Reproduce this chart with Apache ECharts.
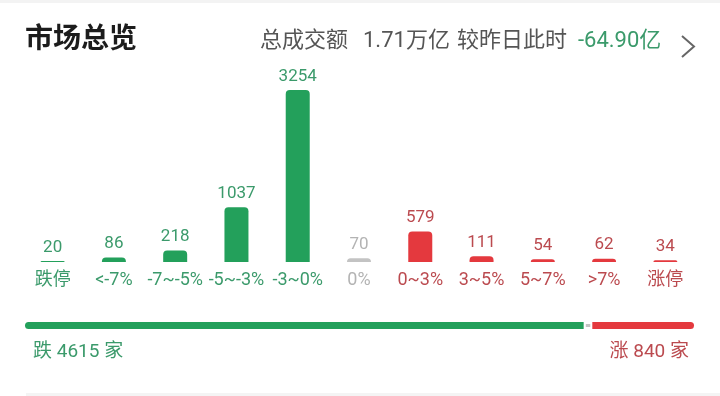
<!DOCTYPE html>
<html>
<head>
<meta charset="utf-8">
<script src="https://cdn.jsdelivr.net/npm/echarts@6/dist/echarts.min.js"></script>
<style>
  html, body { margin: 0; padding: 0; background: #fff; }
  #chart { width: 720px; height: 396px; }
</style>
</head>
<body>
<div id="chart"></div>
<script>
// distribution buckets
const categories = ["跌停", "<-7%", "-7~-5%", "-5~-3%", "-3~0%", "0%", "0~3%", "3~5%", "5~7%", ">7%", "涨停"];
const counts = [20, 86, 218, 1037, 3254, 70, 579, 111, 54, 62, 34];
const flatIndex = 5;

const turnover = "1.71万亿";
const turnoverChange = "-64.90亿";

const FONT = "Roboto, 'Noto Sans CJK SC', sans-serif";
const GREEN = "#23a05b";
const GREEN_TEXT = "#3b9a6b";
const RED = "#e4393e";
const RED_TEXT = "#bb4a4f";
const GRAY = "#c3c3c3";
const GRAY_TEXT = "#b3b3b3";

const downTotal = counts.slice(0, flatIndex).reduce((a, b) => a + b, 0);
const flatTotal = counts[flatIndex];
const upTotal = counts.slice(flatIndex + 1).reduce((a, b) => a + b, 0);

function sideColors(i) {
  if (i < flatIndex) return [GREEN, GREEN_TEXT];
  if (i === flatIndex) return [GRAY, GRAY_TEXT];
  return [RED, RED_TEXT];
}

const barData = counts.map((v, i) => {
  const [c, t] = sideColors(i);
  return { value: v, itemStyle: { color: c }, label: { color: t } };
});

const axisLabels = categories.map((name, i) => ({
  value: name,
  textStyle: { color: sideColors(i)[1] },
}));

const chart = echarts.init(document.getElementById("chart"), null, { renderer: "canvas" });

chart.setOption({
  backgroundColor: "#fff",
  animation: false,
  grid: [
    { left: 22, right: 24, top: 90, bottom: 134 },
    { left: 25, right: 26, top: 322, height: 7 },
  ],
  xAxis: [
    {
      type: "category",
      data: axisLabels,
      axisLine: { show: false },
      axisTick: { show: false },
      axisLabel: { margin: 10, fontSize: 18, fontFamily: FONT, interval: 0 },
    },
    { type: "value", gridIndex: 1, show: false, min: 0, max: downTotal + flatTotal + upTotal },
  ],
  yAxis: [
    { type: "value", min: 0, max: Math.max(...counts), show: false },
    { type: "category", gridIndex: 1, show: false, data: ["all"] },
  ],
  series: [
    {
      type: "bar",
      data: barData,
      barWidth: 24,
      barMinHeight: 1,
      itemStyle: { borderRadius: [4, 4, 0, 0] },
      label: { show: true, position: "top", distance: 5, fontSize: 17, fontFamily: FONT },
    },
    {
      type: "bar", xAxisIndex: 1, yAxisIndex: 1, stack: "ratio", barWidth: 7,
      data: [downTotal],
      itemStyle: { color: GREEN, borderRadius: [3.5, 0, 0, 3.5] },
    },
    {
      type: "bar", xAxisIndex: 1, yAxisIndex: 1, stack: "ratio", barWidth: 7,
      data: [flatTotal],
      itemStyle: { color: GRAY, borderColor: "#fff", borderWidth: 2 },
    },
    {
      type: "bar", xAxisIndex: 1, yAxisIndex: 1, stack: "ratio", barWidth: 7,
      data: [upTotal],
      itemStyle: { color: RED, borderRadius: [0, 3.5, 3.5, 0] },
    },
  ],
  graphic: [
    { type: "rect", left: 0, top: 0, shape: { width: 720, height: 3 }, style: { fill: "#f3f3f3" } },
    { type: "rect", left: 26, top: 393, shape: { width: 694, height: 3 }, style: { fill: "#f4f4f4" } },
    {
      type: "text", left: 25, top: 27,
      style: { text: "市场总览", fill: "#1c1c1c", font: "bold 28px " + FONT },
    },
    {
      type: "text", left: 260, top: 30,
      style: { text: "总成交额", fill: "#555", font: "22px " + FONT },
    },
    {
      type: "text", left: 363, top: 30,
      style: { text: turnover, fill: "#555", font: "22px " + FONT },
    },
    {
      type: "text", left: 457, top: 30,
      style: { text: "较昨日此时", fill: "#555", font: "22px " + FONT },
    },
    {
      type: "text", left: 578, top: 30,
      style: { text: turnoverChange, fill: GREEN_TEXT, font: "22px " + FONT },
    },
    {
      type: "polyline",
      shape: { points: [[682, 36], [694, 46.5], [682, 57]] },
      style: { stroke: "#666", lineWidth: 2, fill: null },
    },
    {
      type: "text", left: 33, top: 343,
      style: { text: "跌 " + downTotal + " 家", fill: GREEN_TEXT, font: "19px " + FONT },
    },
    {
      type: "text", right: 31, top: 343,
      style: { text: "涨 " + upTotal + " 家", fill: RED_TEXT, font: "19px " + FONT },
    },
  ],
});
</script>
</body>
</html>
